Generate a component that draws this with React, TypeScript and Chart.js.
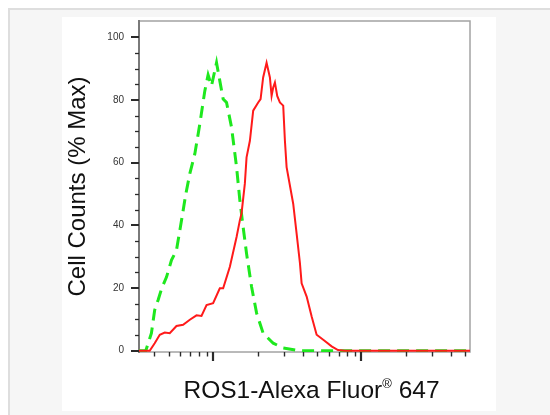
import React, { useEffect, useRef } from 'react';
import { Chart, registerables } from 'chart.js';

Chart.register(...registerables);

// ---- data (fluorescence intensity, % of max) ----
const isotypeX = [31.5, 35.0, 38.2, 40.2, 42.4, 44.9, 48.3, 52.2, 56.4, 61.0, 65.2, 69.4, 75.0, 81.1, 87.6, 92.2, 97.2, 105.1, 110.6, 116.5, 122.8, 132.7, 143.5, 151.0, 158.9, 167.6, 181.2, 195.9, 216.9, 253.6, 296.3, 384.1, 5400];
const isotypeY = [0, 0, 5.6, 13, 16.2, 20, 23.5, 28.9, 32.1, 41.6, 50, 56.5, 62.8, 72.4, 82.9, 88, 84.5, 91.9, 86.1, 80.3, 79.2, 71.3, 58.6, 48, 39.5, 31, 20.4, 12, 5.6, 2.4, 0.9, 0, 0];

const ros1X = [31.5, 37.2, 40.2, 43.5, 47.0, 50.8, 56.4, 62.5, 69.4, 77.0, 83.2, 90.0, 99.7, 110.6, 116.5, 129.3, 143.5, 151.0, 155.0, 163.2, 167.6, 176.5, 185.8, 200.8, 208.4, 216.9, 228.8, 240.9, 247.3, 253.6, 260.4, 269.9, 281.3, 296.3, 304.2, 312.3, 346.0, 364.9, 384.1, 394.4, 426.5, 460.9, 498.0, 552.0, 628.8, 693.8, 773.5, 5400];
const ros1Y = [0, 0, 2.4, 5.1, 5.8, 5.6, 7.9, 8.3, 9.9, 11.3, 11.1, 14.6, 15.2, 19.9, 19.9, 26.8, 36.3, 41.6, 43.8, 53.3, 61.7, 67, 76.6, 79.2, 80.3, 87.2, 91.9, 87.2, 81.3, 84, 85.6, 81.3, 79.2, 78.2, 67, 58.6, 46.9, 37.4, 28, 21.5, 17.3, 10.9, 5.1, 3.5, 1.4, 0.2, 0, 0];

const yLabelTicks = [0, 20, 40, 60, 80, 100];
const yMinorTicks = [5, 10, 15, 25, 30, 35, 45, 50, 55, 65, 70, 75, 85, 90, 95];
const xMajorTicks = [100, 1000];
const xMinorTicks = [40, 50, 60, 70, 80, 90, 200, 300, 400, 500, 600, 700, 800, 900, 2000, 3000, 4000, 5000];

const X_MIN = 31.5;
const X_MAX = 5400;
const Y_MIN = -0.4;
const Y_MAX = 105.2;

const FONT = '"Liberation Sans", Arial, Helvetica, sans-serif';

const xTitleParts = [
  { text: 'ROS1-Alexa Fluor', size: 24.5, rise: 0 },
  { text: '\u00AE', size: 13, rise: 10 },
  { text: ' 647', size: 24.5, rise: 0 },
];

const framePlugin = {
  id: 'frameAndTicks',
  beforeDatasetsDraw(chart: any) {
    const { ctx, chartArea: a } = chart;
    ctx.save();
    ctx.strokeStyle = '#a3a3a3';
    ctx.lineWidth = 1.5;
    ctx.strokeRect(a.left, a.top, a.right - a.left, a.bottom - a.top);
    ctx.strokeStyle = '#7a7a7a';
    ctx.lineWidth = 2;
    ctx.beginPath();
    ctx.moveTo(a.left, a.top - 1);
    ctx.lineTo(a.left, a.bottom + 1);
    ctx.stroke();
    ctx.restore();
  },
  afterDraw(chart: any) {
    const { ctx, chartArea: a, scales } = chart;
    const xs = scales.x;
    const ys = scales.y;
    ctx.save();
    ctx.strokeStyle = '#2a2a2a';
    // y ticks
    ctx.lineWidth = 2;
    yLabelTicks.forEach((v) => {
      const py = Math.round(ys.getPixelForValue(v));
      ctx.beginPath();
      ctx.moveTo(a.left - 8, py);
      ctx.lineTo(a.left, py);
      ctx.stroke();
    });
    ctx.lineWidth = 1.3;
    yMinorTicks.forEach((v) => {
      const py = Math.round(ys.getPixelForValue(v)) + 0.5;
      ctx.beginPath();
      ctx.moveTo(a.left - 4, py);
      ctx.lineTo(a.left, py);
      ctx.stroke();
    });
    // x ticks
    ctx.lineWidth = 2.2;
    xMajorTicks.forEach((v) => {
      const px = Math.round(xs.getPixelForValue(v));
      ctx.beginPath();
      ctx.moveTo(px, a.bottom);
      ctx.lineTo(px, a.bottom + 9);
      ctx.stroke();
    });
    ctx.lineWidth = 1.4;
    xMinorTicks.forEach((v) => {
      const px = Math.round(xs.getPixelForValue(v)) + 0.5;
      ctx.beginPath();
      ctx.moveTo(px, a.bottom);
      ctx.lineTo(px, a.bottom + 4.5);
      ctx.stroke();
    });
    // x title with superscript mark
    ctx.fillStyle = '#111';
    ctx.textBaseline = 'alphabetic';
    ctx.textAlign = 'left';
    let total = 0;
    const widths = xTitleParts.map((p) => {
      ctx.font = `${p.size}px ${FONT}`;
      const w = ctx.measureText(p.text).width;
      total += w;
      return w;
    });
    const cx = (a.left + a.right) / 2 + 7;
    let x = cx - total / 2;
    const baseY = a.bottom + 46.3;
    xTitleParts.forEach((p, i) => {
      ctx.font = `${p.size}px ${FONT}`;
      ctx.fillText(p.text, x, baseY - p.rise);
      x += widths[i];
    });
    ctx.restore();
  },
};

export default function App() {
  const ref = useRef<HTMLCanvasElement | null>(null);

  useEffect(() => {
    document.body.style.overflow = 'hidden';
    if (!ref.current) return;
    const chart = new Chart(ref.current, {
      type: 'line',
      data: {
        datasets: [
          {
            label: 'ROS1',
            data: ros1X.map((x, i) => ({ x, y: ros1Y[i] })),
            borderColor: '#ff1a1a',
            borderWidth: 2,
            pointRadius: 0,
            tension: 0,
            fill: false,
          },
          {
            label: 'Isotype',
            data: isotypeX.map((x, i) => ({ x, y: isotypeY[i] })),
            borderColor: '#1ee81e',
            borderWidth: 3,
            borderDash: [12, 7],
            pointRadius: 0,
            tension: 0,
            fill: false,
          },
        ],
      },
      options: {
        animation: false,
        responsive: false,
        layout: { padding: { left: 0, right: 26, top: 4, bottom: 0 } },
        plugins: {
          legend: { display: false },
          tooltip: { enabled: false },
        },
        scales: {
          x: {
            type: 'logarithmic',
            min: X_MIN,
            max: X_MAX,
            grid: { display: false, drawTicks: false },
            border: { display: false },
            ticks: { display: false },
            afterFit: (scale: any) => {
              scale.height = 59;
              scale.paddingLeft = 0;
              scale.paddingRight = 0;
            },
          },
          y: {
            type: 'linear',
            min: Y_MIN,
            max: Y_MAX,
            grid: { display: false, drawTicks: false },
            border: { display: false },
            afterBuildTicks: (scale: any) => {
              scale.ticks = yLabelTicks.map((v) => ({ value: v }));
            },
            ticks: {
              autoSkip: false,
              padding: 15,
              color: '#333',
              font: { family: FONT, size: 10 },
              callback: (v: any) => String(v),
            },
            title: {
              display: true,
              text: 'Cell Counts (% Max)',
              color: '#111',
              font: { family: FONT, size: 24 },
              padding: { top: 2, bottom: 0 },
            },
            afterFit: (scale: any) => {
              scale.width = 77;
              scale.paddingTop = 0;
              scale.paddingBottom = 0;
            },
          },
        },
      },
      plugins: [framePlugin],
    });
    return () => chart.destroy();
  }, []);

  return (
    <div
      style={{
        position: 'fixed',
        left: 8,
        top: 8,
        width: 560,
        height: 420,
        background: '#f6f6f6',
        borderTop: '2px solid #dedede',
        borderLeft: '2px solid #dedede',
      }}
    >
      <div
        style={{
          position: 'absolute',
          left: 52,
          top: 7,
          width: 434,
          height: 394,
          background: '#ffffff',
        }}
      >
        <canvas ref={ref} width={434} height={394} style={{ display: 'block' }} />
      </div>
    </div>
  );
}
